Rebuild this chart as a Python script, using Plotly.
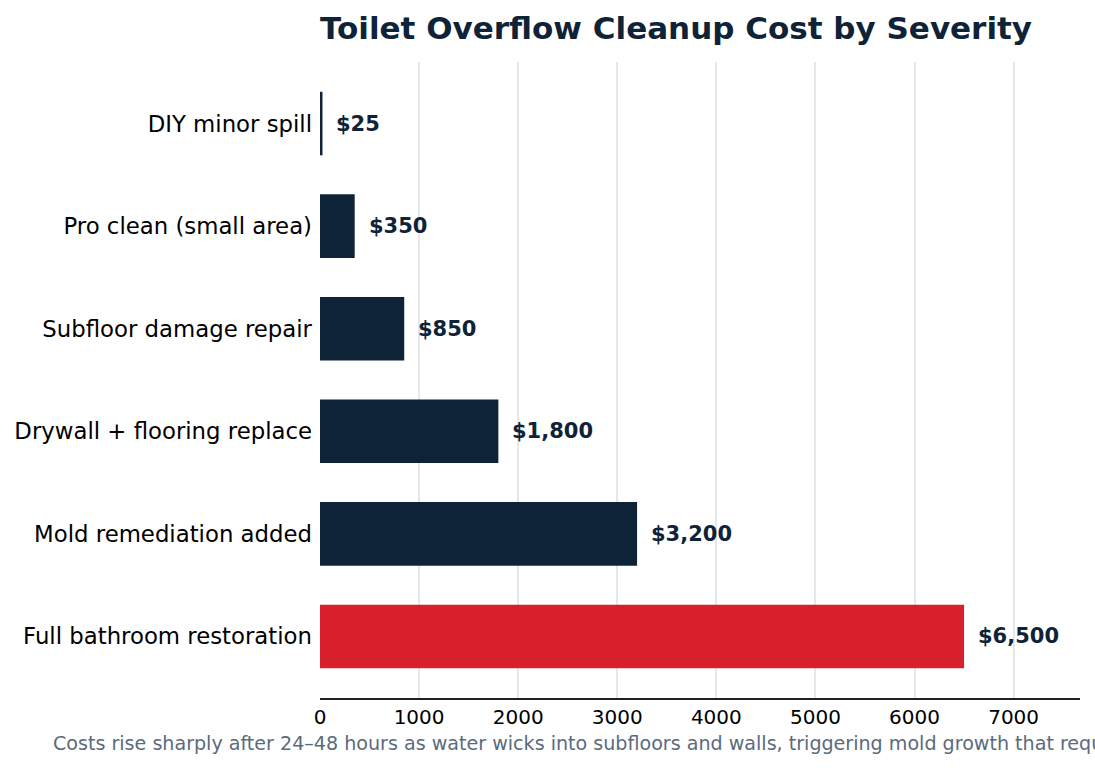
import plotly.graph_objects as go

categories = ["DIY minor spill", "Pro clean (small area)", "Subfloor damage repair",
              "Drywall + flooring replace", "Mold remediation added", "Full bathroom restoration"]
costs = [25, 350, 850, 1800, 3200, 6500]
labels = ["$25", "$350", "$850", "$1,800", "$3,200", "$6,500"]
tick_vals = [0, 1000, 2000, 3000, 4000, 5000, 6000, 7000]
title_text = "Toilet Overflow Cleanup Cost by Severity"
footnote = ("Costs rise sharply after 24\u201348 hours as water wicks into subfloors and walls, "
            "triggering mold growth that requires professional remediation.")

NAVY = "#0f2338"
RED = "#d7202b"
colors = [RED if c == max(costs) else NAVY for c in costs]

fig = go.Figure(go.Bar(
    x=costs, y=categories, orientation="h",
    marker=dict(color=colors, line=dict(width=0)),
    width=0.62,
    hoverinfo="skip",
))

for c, v, lab in zip(categories, costs, labels):
    fig.add_annotation(x=v, y=c, xref="x", yref="y", text="<b>" + lab + "</b>",
                       showarrow=False, xanchor="left", yanchor="middle", xshift=12,
                       font=dict(family="DejaVu Sans", size=21, color=NAVY))

fig.add_annotation(x=(51 - 320) / 760, y=-(743 - 698) / 636, xref="paper", yref="paper",
                   text=footnote, showarrow=False, xanchor="left", yanchor="middle",
                   font=dict(family="DejaVu Sans", size=19.1, color="#5b6b7d"))

fig.update_layout(
    width=1095, height=768,
    paper_bgcolor="white", plot_bgcolor="white",
    margin=dict(l=320, r=15, t=62, b=70),
    font=dict(family="DejaVu Sans", color="black"),
    title=dict(text="<b>" + title_text + "</b>", x=320 / 1095, xanchor="left",
               y=1 - 28 / 768, yanchor="middle",
               font=dict(family="DejaVu Sans", size=31, color=NAVY)),
    showlegend=False,
    bargap=0.4,
)
fig.update_xaxes(range=[0, 7670], tickvals=tick_vals, showgrid=True, gridcolor="#e3e7ee",
                 gridwidth=2, zeroline=False, showline=True, linecolor="#222222", linewidth=2,
                 ticks="", tickfont=dict(family="DejaVu Sans", size=20, color="black"))
fig.update_yaxes(categoryorder="array", categoryarray=categories, autorange=False,
                 range=[5.6, -0.6], showgrid=False, zeroline=False, showline=False, ticks="",
                 ticklabelstandoff=7, tickfont=dict(family="DejaVu Sans", size=22.8, color="black"))

fig.write_html("out.html")
